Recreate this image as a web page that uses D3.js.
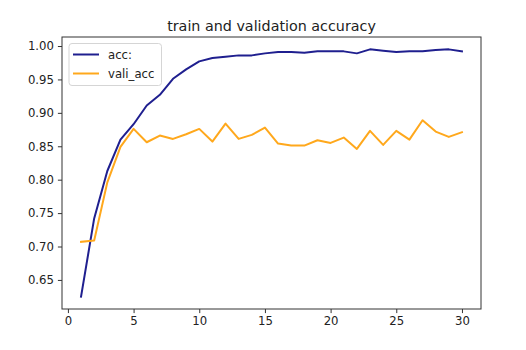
<!DOCTYPE html>
<html>
<head>
<meta charset="utf-8">
<script src="https://cdn.jsdelivr.net/npm/d3@7"></script>
<style>
  html, body { margin: 0; padding: 0; background: #fff; }
  svg { display: block; font-family: "DejaVu Sans", sans-serif; }
</style>
</head>
<body>
<svg id="chart" width="526" height="350"></svg>
<script>
// Training history, one entry per epoch
const epochs = d3.range(1, 31);
const acc = [0.625, 0.742, 0.813, 0.860, 0.883, 0.911, 0.927, 0.951, 0.965, 0.977,
             0.982, 0.984, 0.986, 0.986, 0.989, 0.991, 0.991, 0.990, 0.992, 0.992,
             0.992, 0.989, 0.995, 0.993, 0.991, 0.992, 0.992, 0.994, 0.995, 0.992];
const valiAcc = [0.707, 0.709, 0.796, 0.849, 0.876, 0.856, 0.866, 0.861, 0.868, 0.876,
                 0.857, 0.884, 0.861, 0.867, 0.878, 0.854, 0.851, 0.851, 0.859, 0.855,
                 0.863, 0.846, 0.873, 0.852, 0.873, 0.860, 0.889, 0.872, 0.864, 0.871];
const xTicks = [0, 5, 10, 15, 20, 25, 30];
const yTicks = [0.65, 0.70, 0.75, 0.80, 0.85, 0.90, 0.95, 1.00];
const seriesNames = ["acc:", "vali_acc"];
const seriesColors = ["#1f1f8f", "#ffa81c"];

const svg = d3.select("#chart");
const margin = { left: 62, right: 45, top: 37, bottom: 41 };
const W = 526, H = 350;
const fs = 11.7;

// Axis limits padded by 5% of the data span on each side
function padded(ext) {
  const p = (ext[1] - ext[0]) * 0.05;
  return [ext[0] - p, ext[1] + p];
}
const x = d3.scaleLinear()
  .domain(padded(d3.extent(epochs)))
  .range([margin.left, W - margin.right]);
const y = d3.scaleLinear()
  .domain(padded(d3.extent(acc.concat(valiAcc))))
  .range([H - margin.bottom, margin.top]);

// Lines
const series = [acc, valiAcc];
const line = d3.line().x((d, i) => x(epochs[i])).y(d => y(d));
series.forEach((s, k) => {
  svg.append("path")
    .datum(s)
    .attr("d", line)
    .attr("fill", "none")
    .attr("stroke", seriesColors[k])
    .attr("stroke-width", 2)
    .attr("stroke-linejoin", "round")
    .attr("stroke-linecap", "square");
});

// Axes
const xAxis = d3.axisBottom(x).tickValues(xTicks).tickSize(4.1).tickPadding(4).tickFormat(d3.format("d"));
const yAxis = d3.axisLeft(y).tickValues(yTicks).tickSize(4.1).tickPadding(4).tickFormat(d3.format(".2f"));

const gx = svg.append("g").attr("transform", `translate(0,${H - margin.bottom})`).call(xAxis);
const gy = svg.append("g").attr("transform", `translate(${margin.left},0)`).call(yAxis);
[gx, gy].forEach(g => {
  g.select(".domain").remove();
  g.selectAll(".tick line").attr("stroke", "#333").attr("stroke-width", 1);
  g.selectAll(".tick text").attr("fill", "#222").style("font-size", fs + "px")
    .style("font-family", "DejaVu Sans, sans-serif");
});

// Frame
svg.append("rect")
  .attr("x", margin.left)
  .attr("y", margin.top)
  .attr("width", W - margin.left - margin.right)
  .attr("height", H - margin.top - margin.bottom)
  .attr("fill", "none")
  .attr("stroke", "#333")
  .attr("stroke-width", 1);

// Title
svg.append("text")
  .attr("x", (margin.left + W - margin.right) / 2)
  .attr("y", margin.top - 6.5)
  .attr("text-anchor", "middle")
  .attr("fill", "#222")
  .style("font-size", "14.3px")
  .text("train and validation accuracy");

// Legend
const lg = svg.append("g").attr("transform", "translate(69,43.5)");
lg.append("rect")
  .attr("width", 92.5).attr("height", 42)
  .attr("rx", 3).attr("ry", 3)
  .attr("fill", "#fff").attr("fill-opacity", 0.8)
  .attr("stroke", "#d5d5d5").attr("stroke-width", 1);
seriesNames.forEach((name, k) => {
  const cy = 11 + k * 19;
  lg.append("line")
    .attr("x1", 4).attr("x2", 30)
    .attr("y1", cy).attr("y2", cy)
    .attr("stroke", seriesColors[k]).attr("stroke-width", 2);
  lg.append("text")
    .attr("x", 39).attr("y", cy + 4.2)
    .attr("fill", "#222")
    .style("font-size", fs + "px")
    .text(name);
});
</script>
</body>
</html>
